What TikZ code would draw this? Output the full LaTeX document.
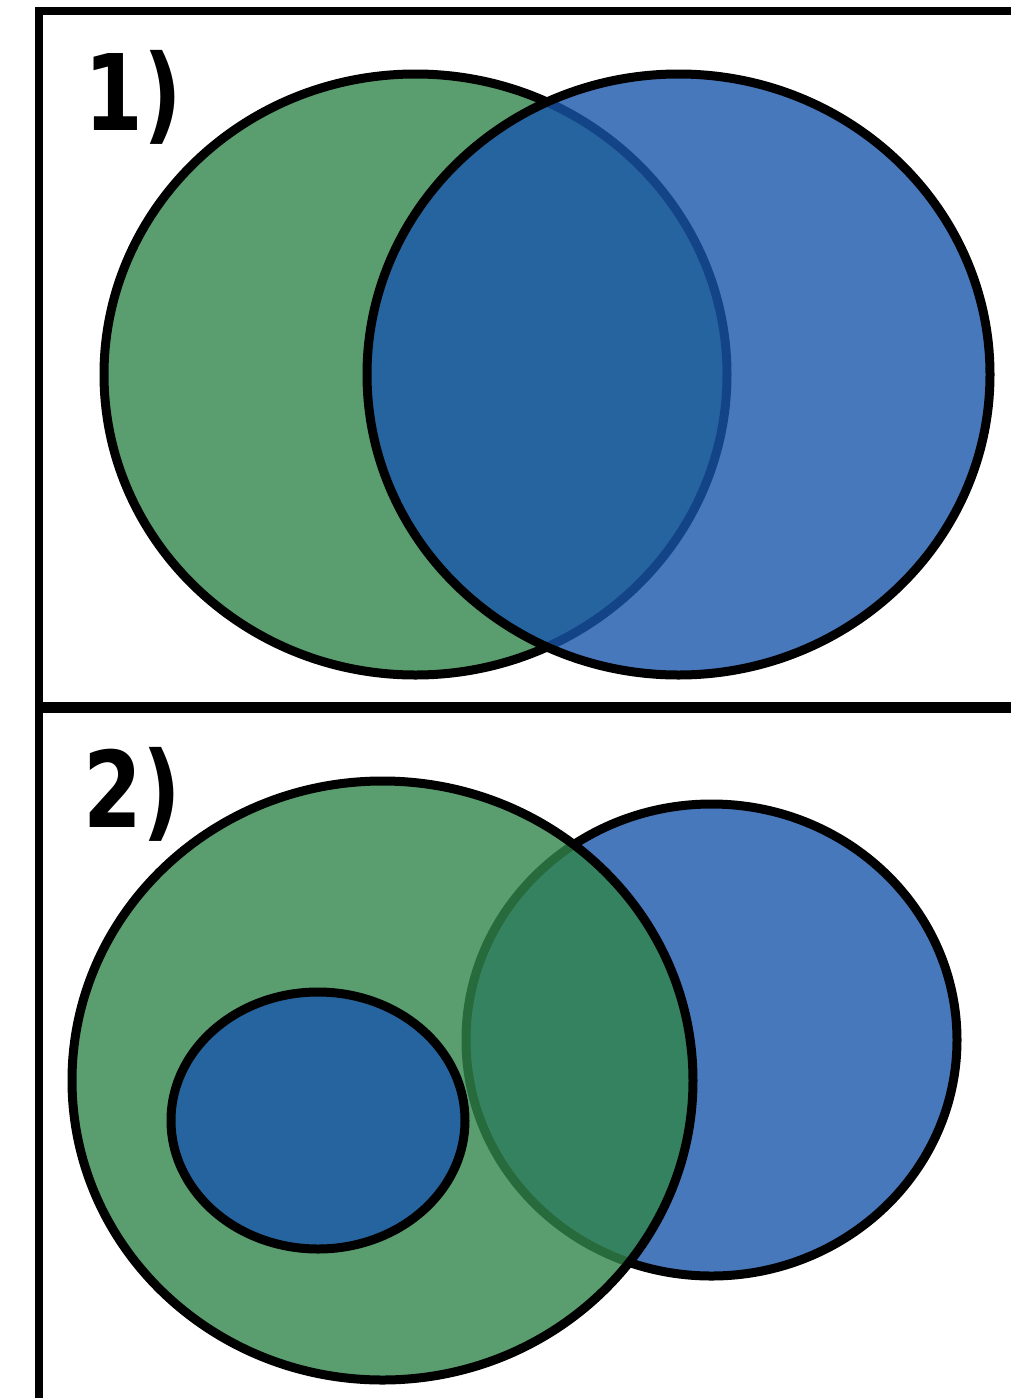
\documentclass[tikz,border=0pt]{standalone}
\usepackage{fontspec}
\newfontfamily\tagfont{DejaVu Sans}[FakeStretch=0.8]
\definecolor{cgreen}{RGB}{49,134,76}
\definecolor{cblue}{RGB}{26,86,171}
\tikzset{vset/.style={draw=black,line width=4.5pt,fill opacity=0.8}}
\tikzset{panelrule/.style={black,line width=4pt},
         paneltag/.style={font=\tagfont\bfseries\fontsize{52.8}{60}\selectfont,inner sep=0pt,anchor=base west}}

\begin{document}
\begin{tikzpicture}[x=0.5pt,y=-0.5pt]
    \useasboundingbox (0,0) rectangle (1011,1398);
    % frame of the two panels
    \draw[panelrule] (1011,11) -- (39,11) -- (39,1398);
    \draw[panelrule,line width=5.5pt] (41,707) -- (1011,707);
    % 1) two sets overlapping
    \draw[vset,fill=cgreen] (415.5,374.5) ellipse [x radius=311.5,y radius=300.5];
    \draw[vset,fill=cblue]  (678.5,374.5) ellipse [x radius=311.5,y radius=300.5];
    % 2) subset inside the green set
    \draw[vset,fill=cblue]  (711.5,1040) ellipse [x radius=245.5,y radius=236];
    \draw[vset,fill=cgreen] (382.5,1080.5) ellipse [x radius=310.5,y radius=299.5];
    \draw[vset,fill=cblue]  (318,1120.5) ellipse [x radius=147,y radius=128.5];
    \node[paneltag] (tagone) at (84,130) {1)};
    \node[paneltag] (tagtwo) at (83,827) {2)};
  \end{tikzpicture}
\end{document}
